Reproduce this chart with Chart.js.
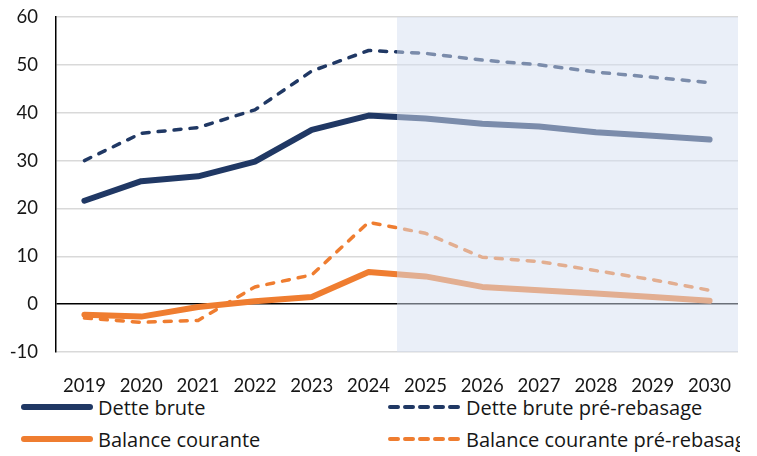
<!DOCTYPE html>
<html>
<head>
<meta charset="utf-8">
<script src="https://cdn.jsdelivr.net/npm/chart.js@4.4.1/dist/chart.umd.min.js"></script>
<style>
  body { margin: 0; background: #fff; font-family: "Open Sans", Lato, sans-serif; }
  #wrap { position: relative; width: 740px; height: 456px; overflow: hidden; }
  #chart { position: absolute; left: 0; top: 0; }
  .leg { position: absolute; display: flex; align-items: center; white-space: nowrap;
         font-size: 20px; color: #161616; height: 26px; }
  .leg svg { margin-right: 4px; }
</style>
</head>
<body>
<div id="wrap">
  <canvas id="chart" width="757" height="392"></canvas>
  <div id="legend"></div>
</div>
<script>
// Années
const annees = ['2019', '2020', '2021', '2022', '2023', '2024', '2025', '2026', '2027', '2028', '2029', '2030'];

// Séries
const detteBrute = [21.6, 25.7, 26.7, 29.8, 36.4, 39.4, 38.8, 37.7, 37.1, 35.9, 35.2, 34.4];
const detteBrutePre = [30.0, 35.7, 36.9, 40.6, 48.7, 53.0, 52.4, 51.0, 50.0, 48.5, 47.4, 46.3];
const balanceCourante = [-2.2, -2.6, -0.6, 0.6, 1.5, 6.7, 5.8, 3.6, 2.9, 2.2, 1.5, 0.7];
const balanceCourantePre = [-2.9, -3.8, -3.4, 3.6, 6.1, 17.1, 14.8, 9.8, 8.9, 7.0, 5.1, 2.9];

const bleu = '#203864';
const orange = '#ef7d30';

// zone de projection : à partir de 2025
const debutProjection = 6;

const series = [
  { label: 'Dette brute', data: detteBrute, color: bleu, dash: false },
  { label: 'Dette brute pré-rebasage', data: detteBrutePre, color: bleu, dash: true },
  { label: 'Balance courante', data: balanceCourante, color: orange, dash: false },
  { label: 'Balance courante pré-rebasage', data: balanceCourantePre, color: orange, dash: true }
];

// voile clair sur la période de projection (éclaircit aussi les courbes)
const voileProjection = {
  id: 'voileProjection',
  afterDatasetsDraw(chart) {
    const { ctx, chartArea: a, scales: { x } } = chart;
    const x0 = (x.getPixelForValue(debutProjection - 1) + x.getPixelForValue(debutProjection)) / 2;
    ctx.save();
    ctx.fillStyle = 'rgba(213,223,241,0.5)';
    ctx.fillRect(x0, a.top, a.right - x0, a.bottom - a.top);
    ctx.restore();
  }
};

new Chart(document.getElementById('chart'), {
  type: 'line',
  data: {
    labels: annees,
    datasets: series.map(s => ({
      label: s.label,
      data: s.data,
      borderColor: s.color,
      borderWidth: s.dash ? 3.5 : 6,
      borderDash: s.dash ? [7, 9] : [],
      borderCapStyle: 'round',
      borderJoinStyle: 'round',
      pointRadius: 0,
      tension: 0,
      fill: false
    }))
  },
  options: {
    responsive: false,
    animation: false,
    layout: { padding: { left: 0, right: 19, top: 17, bottom: 0 } },
    plugins: { legend: { display: false }, tooltip: { enabled: false } },
    scales: {
      x: {
        offset: true,
        grid: { display: false },
        border: { display: false },
        ticks: { color: '#161616', font: { family: 'Lato', size: 18.5 }, padding: 15, maxRotation: 0 },
        afterFit(scale) { scale.height = 40; }
      },
      y: {
        min: -10,
        max: 60,
        ticks: { stepSize: 10, color: '#161616', font: { family: 'Lato', size: 18.5 }, padding: 18 },
        grid: {
          drawTicks: false,
          color: c => c.tick.value === 0 ? '#000' : '#d9d9d9',
          lineWidth: 1.5
        },
        border: { display: true, color: '#000', width: 1.5 },
        afterFit(scale) {
          scale.width = 56;
          scale.paddingTop = 0;
          scale.paddingBottom = 0;
        }
      }
    }
  },
  plugins: [voileProjection]
});

// légende en deux colonnes
const legende = document.getElementById('legend');
const positions = [[20, 394], [388, 394], [20, 426], [388, 426]];
series.forEach((s, i) => {
  const d = document.createElement('div');
  d.className = 'leg';
  d.style.left = positions[i][0] + 'px';
  d.style.top = positions[i][1] + 'px';
  const trait = s.dash
    ? `<line x1="2" y1="13" x2="70" y2="13" stroke="${s.color}" stroke-width="4" stroke-dasharray="8 7" stroke-linecap="round"/>`
    : `<line x1="4" y1="13" x2="70" y2="13" stroke="${s.color}" stroke-width="6" stroke-linecap="round"/>`;
  d.innerHTML = `<svg width="74" height="26">${trait}</svg><span>${s.label}</span>`;
  legende.appendChild(d);
});
</script>
</body>
</html>
